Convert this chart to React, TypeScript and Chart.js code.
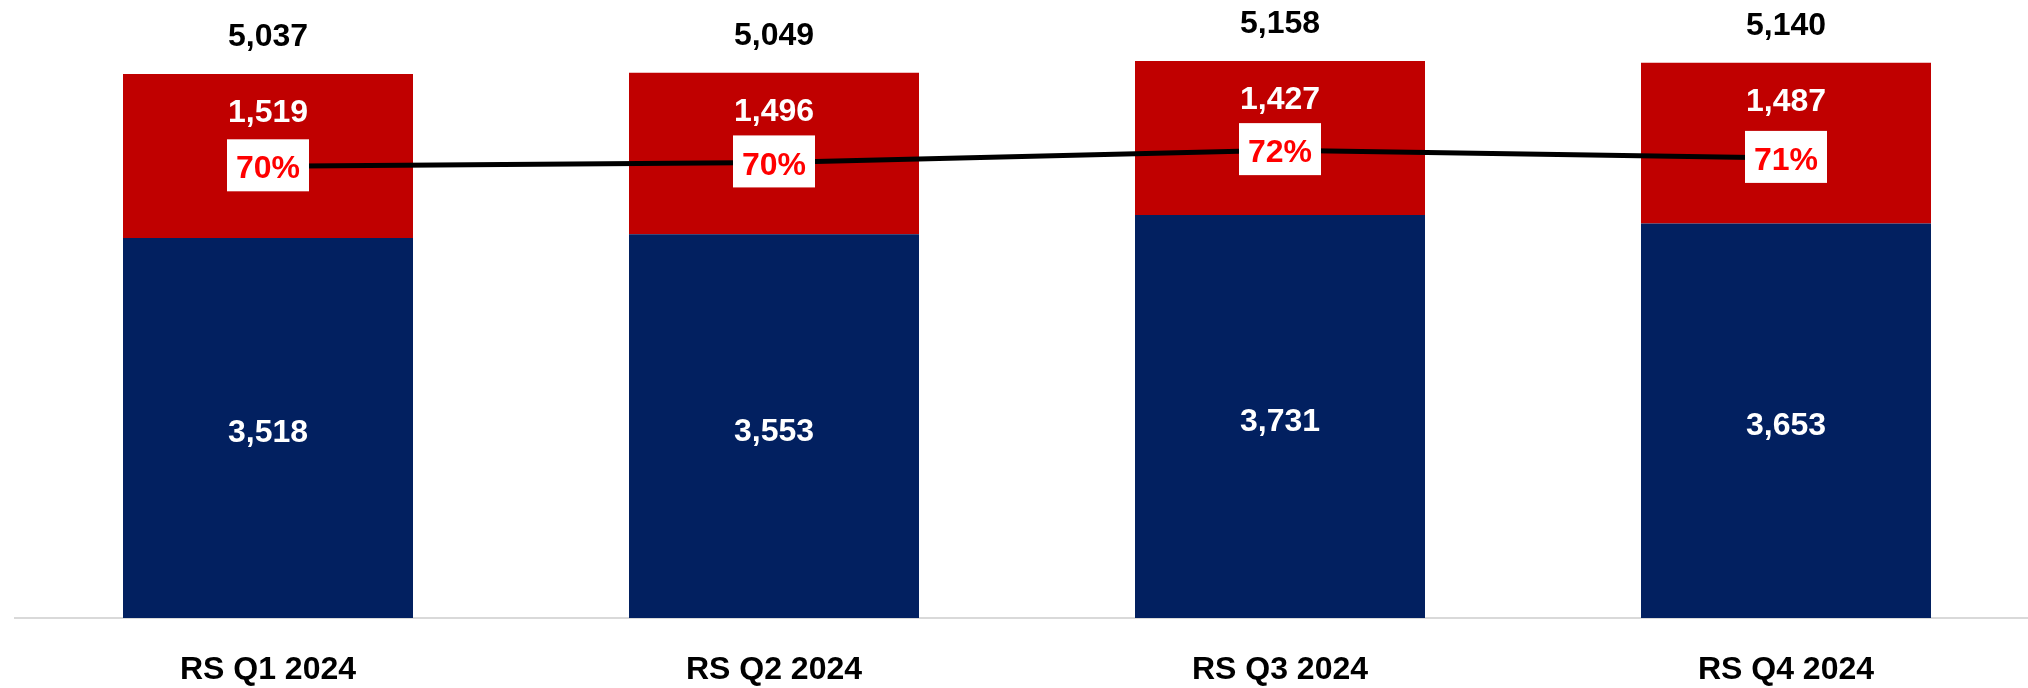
import React, { useEffect, useRef } from "react";
import { Chart, registerables } from "chart.js";

Chart.register(...registerables);

const categories = ["RS Q1 2024", "RS Q2 2024", "RS Q3 2024", "RS Q4 2024"];
const blueValues = [3518, 3553, 3731, 3653];
const redValues = [1519, 1496, 1427, 1487];
const totalValues = [5037, 5049, 5158, 5140];
const shareValues = [0.698, 0.704, 0.723, 0.711];

const NAVY = "#022060";
const RED = "#C00000";
const FONT = "'Liberation Sans', Arial, sans-serif";

const fmt = (v: number) => v.toLocaleString("en-US");

const labelPlugin = {
  id: "customLabels",
  afterDatasetsDraw(chart: any) {
    const ctx = chart.ctx;
    const blueMeta = chart.getDatasetMeta(0);
    const redMeta = chart.getDatasetMeta(1);
    const lineMeta = chart.getDatasetMeta(2);
    const size = 32;
    const cap = size * 0.716;
    ctx.save();
    ctx.font = `bold ${size}px ${FONT}`;
    ctx.textAlign = "center";
    ctx.textBaseline = "alphabetic";
    categories.forEach((_, i) => {
      const b = blueMeta.data[i];
      const r = redMeta.data[i];
      ctx.fillStyle = "#ffffff";
      const bMid = (b.y + b.base) / 2 + 3;
      ctx.fillText(fmt(blueValues[i]), b.x, bMid + cap / 2);
      const rTop = r.y;
      ctx.fillText(fmt(redValues[i]), r.x, rTop + 36.5 + cap / 2);
      ctx.fillStyle = "#000000";
      ctx.fillText(fmt(totalValues[i]), r.x, rTop - 39.5 + cap / 2);
      const p = lineMeta.data[i];
      const bw = 82;
      const bh = 52;
      ctx.fillStyle = "#ffffff";
      ctx.fillRect(p.x - bw / 2, p.y - 1 - bh / 2, bw, bh);
      ctx.fillStyle = "#FF0000";
      ctx.fillText(Math.round(shareValues[i] * 100) + "%", p.x, p.y + 0.7 + cap / 2);
    });
    ctx.restore();
  },
};

export default function App() {
  const ref = useRef<HTMLCanvasElement>(null);
  useEffect(() => {
    document.body.style.overflow = "hidden";
    document.documentElement.style.overflow = "hidden";
    const chart = new Chart(ref.current as HTMLCanvasElement, {
      type: "bar",
      data: {
        labels: categories,
        datasets: [
          {
            type: "bar",
            label: "Blue",
            data: blueValues,
            backgroundColor: NAVY,
            borderWidth: 0,
            stack: "s",
            yAxisID: "y",
            order: 2,
            barPercentage: 1,
            categoryPercentage: 290 / 506,
          },
          {
            type: "bar",
            label: "Red",
            data: redValues,
            backgroundColor: RED,
            borderWidth: 0,
            stack: "s",
            yAxisID: "y",
            order: 2,
            barPercentage: 1,
            categoryPercentage: 290 / 506,
          },
          {
            type: "line",
            label: "Share",
            data: shareValues,
            borderColor: "#000000",
            borderWidth: 5,
            pointRadius: 0,
            tension: 0,
            fill: false,
            yAxisID: "y1",
            order: 1,
          } as any,
        ],
      },
      options: {
        responsive: false,
        animation: false,
        devicePixelRatio: 1,
        layout: { padding: { left: 15, right: 1, top: 0, bottom: -33.4 } },
        plugins: {
          legend: { display: false },
          tooltip: { enabled: false },
        },
        scales: {
          x: {
            stacked: true,
            grid: { display: false, drawTicks: false },
            border: { display: true, color: "#d9d9d9", width: 2 },
            ticks: {
              color: "#000000",
              padding: 32.5,
              font: { family: FONT, size: 32, weight: "bold" },
            },
          },
          y: {
            stacked: true,
            display: false,
            min: 0,
            max: 5722,
          },
          y1: {
            display: false,
            min: 0,
            max: 0.955,
          },
        },
      },
      plugins: [labelPlugin],
    });
    return () => chart.destroy();
  }, []);
  return (
    <div style={{ position: "absolute", left: 0, top: 0, width: 2040, height: 688 }}>
      <canvas ref={ref} width={2040} height={688} style={{ display: "block" }} />
    </div>
  );
}
